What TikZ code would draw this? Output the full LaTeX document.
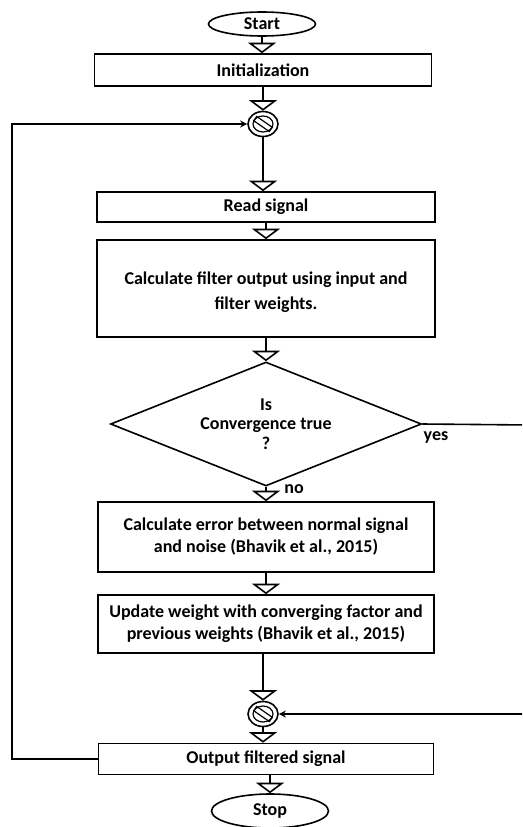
\documentclass[tikz,border=0pt]{standalone}
\usepackage{fontspec}
\setmainfont{Carlito}
\usetikzlibrary{arrows.meta,shapes.geometric,calc}
\begin{document}
\begin{tikzpicture}[x=1pt,y=-1pt,line width=1.6pt,
  txt/.style={font=\fontsize{18}{22}\selectfont\bfseries},
  box/.style={draw,rectangle,inner sep=0pt,align=center,txt},
  term/.style={draw,ellipse,inner sep=0pt,txt},
  decision/.style={draw,diamond,aspect=2.5,inner sep=0pt,align=center,font=\fontsize{18}{19.5}\selectfont\bfseries},
  merge/.style={draw,ellipse,inner sep=0pt,minimum width=30pt,minimum height=25pt},
  flow/.style={-{Triangle[open,width=28pt,length=10.5pt]}},
  back/.style={-{Stealth[length=7pt,width=7pt]}},
]
\useasboundingbox (0,0) rectangle (522,827);
\clip (0,0) rectangle (522,827);

\node[term,minimum width=107pt,minimum height=24pt] (start) at (262,24) {Start};
\node[box,minimum width=337pt,minimum height=32pt] (init) at (263,70) {Initialization};
\node[merge] (m1) at (263,124) {};
\node[box,minimum width=338pt,minimum height=30pt] (read) at (266,207) {Read signal};
\node[box,minimum width=338pt,minimum height=97pt,font=\fontsize{18}{25}\selectfont\bfseries] (calc) at (266,288.5) {\rule{0pt}{21pt}Calculate filter output using input and\\filter weights.};
\node[decision,minimum width=311pt,minimum height=124pt] (dec) at (266,424) {Is\\Convergence true\\?};
\node[box,minimum width=336pt,minimum height=70pt] (err) at (266,537) {Calculate error between normal signal\\and noise (Bhavik et al., 2015)};
\node[box,minimum width=336pt,minimum height=58pt] (upd) at (266,624) {Update weight with converging factor and\\previous weights (Bhavik et al., 2015)};
\node[merge] (m2) at (263,714) {};
\node[box,minimum width=335pt,minimum height=31pt] (out) at (266,759) {Output filtered signal};
\node[term,minimum width=117pt,minimum height=34pt] (stop) at (270,811) {Stop};

\node[txt] (yes) at (436,437) {yes};
\node[txt] (no) at (294,489) {no};

\foreach \m in {m1,m2}{
  \draw[line width=1.2pt] (\m) ellipse (10pt and 8pt);
  \draw[line width=1.2pt] ($(\m)+(6.3,7.55)$) -- ($(\m)+(9.28,3.29)$) -- ($(\m)+(-6.3,-7.55)$) -- ($(\m)+(-9.28,-3.29)$) -- cycle;
}

\coordinate (lb) at (12,759);
\coordinate (ra) at (530,425);
\coordinate (rb) at (530,714);

\draw[flow] (start.south) -- (start.south |- init.north);
\draw[flow] (m1.north |- init.south) -- (m1.north);
\draw[flow] (m1.south) -- (m1.south |- read.north);
\draw[flow] (read.south) -- (calc.north);
\draw[flow] (calc.south) -- (dec.north);
\draw[flow] (dec.south) -- (err.north);
\draw[flow] (err.south) -- (upd.north);
\draw[flow] (m2.north |- upd.south) -- (m2.north);
\draw[flow] (m2.south) -- (m2.south |- out.north);
\draw[flow] (stop.north |- out.south) -- (stop.north);
\draw[back] (out.west) -- (lb) |- (m1.west);
\draw[back] (dec.east) -- (ra) -- (rb) -- (m2.east);
\end{tikzpicture}
\end{document}
